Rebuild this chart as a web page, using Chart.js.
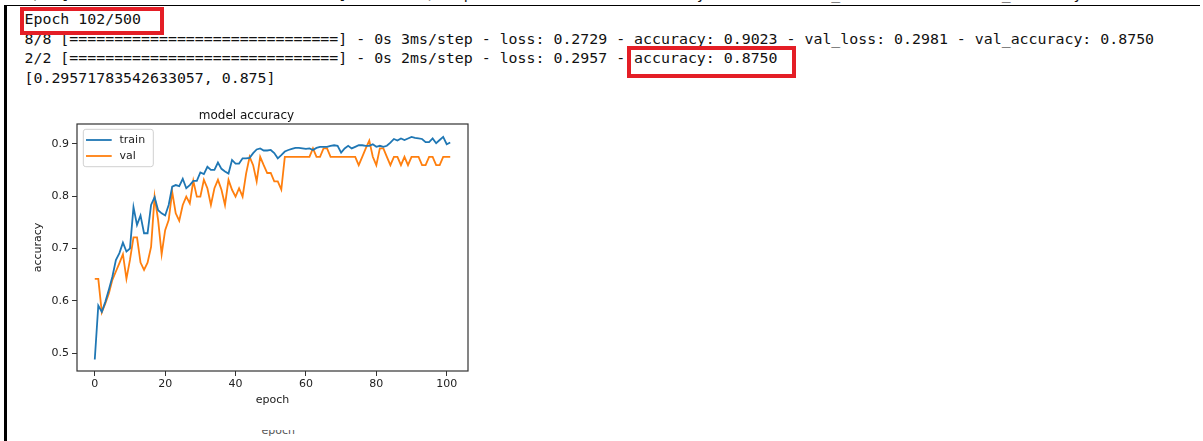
<!DOCTYPE html>
<html>
<head>
<meta charset="utf-8">
<script src="https://cdn.jsdelivr.net/npm/chart.js@4.4.1/dist/chart.umd.min.js"></script>
<style>
  html, body { margin: 0; padding: 0; background: #fff; }
  #page { position: relative; width: 1203px; height: 441px; overflow: hidden; background: #fff; }
  .log {
    position: absolute; left: 24.5px; height: 19.5px; line-height: 19.5px;
    font-family: "DejaVu Sans Mono", monospace; font-size: 14.9px;
    white-space: pre; color: #111;
  }
  .rule { position: absolute; background: #000; }
  .mark { position: absolute; box-sizing: border-box; border: 4.5px solid #e41e26; }
  #plotBox { position: absolute; left: 0; top: 100px; width: 545px; height: 316px; }
  #ghost { position: absolute; left: 256px; top: 430px; width: 50px; height: 8px; overflow: hidden; }
  #ghost span {
    position: absolute; left: 5.5px; top: -5.8px; line-height: 13px;
    font-family: "DejaVu Sans", sans-serif; font-size: 11px; color: #555; white-space: pre;
  }
</style>
</head>
<body>
<div id="page">
  <div class="log" style="top:-15.2px">8/8 [==============================] - 0s 3ms/step - loss: 0.2745 - accuracy: 0.8984 - val_loss: 0.2986 - val_accuracy: 0.8750</div>
  <div class="rule" style="left:4.3px; top:4.6px; width:1196px; height:1.9px"></div>
  <div class="rule" style="left:4.3px; top:4.6px; width:2.4px; height:437px"></div>

  <div class="log" style="top:10.3px">Epoch 102/500</div>
  <div class="log" style="top:29.8px">8/8 [==============================] - 0s 3ms/step - loss: 0.2729 - accuracy: 0.9023 - val_loss: 0.2981 - val_accuracy: 0.8750</div>
  <div class="log" style="top:49.3px">2/2 [==============================] - 0s 2ms/step - loss: 0.2957 - accuracy: 0.8750</div>
  <div class="log" style="top:68.8px">[0.29571783542633057, 0.875]</div>

  <div class="mark" style="left:20px; top:6.5px; width:143.5px; height:28px"></div>
  <div class="mark" style="left:627px; top:45.5px; width:169px; height:32.5px"></div>

  <div id="plotBox"><canvas id="plot" width="545" height="316"></canvas></div>
  <div id="ghost"><span>epoch</span></div>
</div>

<script>
// Training history: accuracy per epoch (epochs 0..101)
const trainAcc = [
  0.488, 0.591, 0.579, 0.598, 0.621, 0.646, 0.678, 0.691, 0.711, 0.694,
  0.700, 0.779, 0.745, 0.763, 0.729, 0.729, 0.783, 0.798, 0.773, 0.767,
  0.763, 0.783, 0.818, 0.821, 0.819, 0.833, 0.815, 0.821, 0.829, 0.829,
  0.845, 0.842, 0.856, 0.850, 0.850, 0.864, 0.852, 0.847, 0.843, 0.869,
  0.862, 0.862, 0.872, 0.872, 0.873, 0.882, 0.889, 0.891, 0.887, 0.887,
  0.888, 0.882, 0.872, 0.878, 0.885, 0.888, 0.890, 0.892, 0.892, 0.891,
  0.890, 0.891, 0.888, 0.892, 0.894, 0.894, 0.894, 0.896, 0.897, 0.896,
  0.883, 0.891, 0.896, 0.891, 0.894, 0.897, 0.897, 0.896, 0.896, 0.899,
  0.894, 0.896, 0.894, 0.896, 0.902, 0.909, 0.906, 0.910, 0.907, 0.910,
  0.913, 0.911, 0.910, 0.909, 0.903, 0.903, 0.910, 0.901, 0.907, 0.913,
  0.899, 0.9023
];

const valAcc = [
  0.642, 0.642, 0.578, 0.595, 0.614, 0.640, 0.656, 0.672, 0.689, 0.642,
  0.678, 0.721, 0.721, 0.673, 0.659, 0.673, 0.703, 0.799, 0.754, 0.689,
  0.735, 0.754, 0.808, 0.767, 0.753, 0.783, 0.799, 0.786, 0.829, 0.799,
  0.799, 0.831, 0.815, 0.783, 0.815, 0.831, 0.812, 0.783, 0.831, 0.812,
  0.799, 0.815, 0.799, 0.843, 0.875, 0.859, 0.828, 0.875, 0.859, 0.844,
  0.844, 0.828, 0.828, 0.8125, 0.875, 0.875, 0.875, 0.875, 0.875, 0.875,
  0.875, 0.875, 0.891, 0.875, 0.875, 0.891, 0.891, 0.875, 0.875, 0.875,
  0.875, 0.875, 0.875, 0.875, 0.875, 0.859, 0.875, 0.891, 0.906, 0.875,
  0.859, 0.891, 0.891, 0.875, 0.859, 0.875, 0.875, 0.859, 0.875, 0.859,
  0.875, 0.875, 0.875, 0.859, 0.859, 0.875, 0.875, 0.859, 0.859, 0.875,
  0.875, 0.875
];

const seriesLabels = ['train', 'val'];
const seriesColors = ['#1f77b4', '#ff7f0e'];

const xTicks = [0, 20, 40, 60, 80, 100];
const yTicks = [0.5, 0.6, 0.7, 0.8, 0.9];
const xRange = [-5.05, 106.05];
const yRange = [0.466, 0.9376];

const sansFont = '"DejaVu Sans", sans-serif';

function points(values) {
  return values.map((v, i) => ({ x: i, y: v }));
}

// Axes frame on all four sides of the plotting area
const axesFrame = {
  id: 'axesFrame',
  afterDraw(chart) {
    const { ctx, chartArea: a } = chart;
    ctx.save();
    ctx.strokeStyle = '#333';
    ctx.lineWidth = 1.2;
    ctx.strokeRect(a.left, a.top, a.right - a.left, a.bottom - a.top);
    ctx.restore();
  }
};

// Legend box drawn in the upper-left corner of the plotting area
const cornerLegend = {
  id: 'cornerLegend',
  afterDraw(chart) {
    const { ctx, chartArea: a } = chart;
    const x0 = a.left + 6.3, y0 = a.top + 5.3, w = 70, h = 37.4, r = 2.5;
    ctx.save();
    ctx.beginPath();
    ctx.moveTo(x0 + r, y0);
    ctx.arcTo(x0 + w, y0, x0 + w, y0 + h, r);
    ctx.arcTo(x0 + w, y0 + h, x0, y0 + h, r);
    ctx.arcTo(x0, y0 + h, x0, y0, r);
    ctx.arcTo(x0, y0, x0 + w, y0, r);
    ctx.closePath();
    ctx.fillStyle = 'rgba(255,255,255,0.85)';
    ctx.fill();
    ctx.strokeStyle = '#d0d0d0';
    ctx.lineWidth = 1;
    ctx.stroke();
    ctx.font = '11px ' + sansFont;
    ctx.textBaseline = 'middle';
    chart.data.datasets.forEach((ds, i) => {
      const cy = y0 + 10.7 + i * 16;
      ctx.strokeStyle = ds.borderColor;
      ctx.lineWidth = ds.borderWidth;
      ctx.beginPath();
      ctx.moveTo(x0 + 2.7, cy);
      ctx.lineTo(x0 + 28.4, cy);
      ctx.stroke();
      ctx.fillStyle = '#222';
      ctx.fillText(ds.label, x0 + 36.2, cy);
    });
    ctx.restore();
  }
};

new Chart(document.getElementById('plot'), {
  type: 'line',
  data: {
    datasets: [
      { label: seriesLabels[0], data: points(trainAcc), borderColor: seriesColors[0], backgroundColor: seriesColors[0],
        borderWidth: 1.8, pointRadius: 0, tension: 0, fill: false },
      { label: seriesLabels[1], data: points(valAcc), borderColor: seriesColors[1], backgroundColor: seriesColors[1],
        borderWidth: 1.8, pointRadius: 0, tension: 0, fill: false }
    ]
  },
  options: {
    responsive: false,
    animation: false,
    devicePixelRatio: 1,
    layout: { padding: { left: 25, right: 77, top: 0, bottom: 0 } },
    plugins: {
      legend: { display: false },
      tooltip: { enabled: false },
      title: {
        display: true, text: 'model accuracy', color: '#111',
        font: { family: sansFont, size: 12, weight: 'normal' },
        padding: { top: 8.7, bottom: 0.9 }
      }
    },
    scales: {
      x: {
        type: 'linear', min: xRange[0], max: xRange[1],
        afterFit(scale) { scale.height = 45; },
        afterBuildTicks(scale) { scale.ticks = xTicks.map(v => ({ value: v })); },
        grid: { drawOnChartArea: false, drawTicks: true, tickLength: 5, color: '#333', tickColor: '#333', lineWidth: 1 },
        border: { display: false },
        ticks: { padding: 2, color: '#222', autoSkip: false, maxRotation: 0,
                 font: { family: sansFont, size: 11 }, callback: v => String(v) },
        title: { display: true, text: 'epoch', color: '#222',
                 font: { family: sansFont, size: 11 }, padding: { top: 0, bottom: 9.7 } }
      },
      y: {
        type: 'linear', min: yRange[0], max: yRange[1],
        afterFit(scale) { scale.width = 52; },
        afterBuildTicks(scale) { scale.ticks = yTicks.map(v => ({ value: v })); },
        grid: { drawOnChartArea: false, drawTicks: true, tickLength: 5, color: '#333', tickColor: '#333', lineWidth: 1 },
        border: { display: false },
        ticks: { padding: 3, color: '#222', autoSkip: false,
                 font: { family: sansFont, size: 11 }, callback: v => v.toFixed(1) },
        title: { display: true, text: 'accuracy', color: '#222',
                 font: { family: sansFont, size: 11 }, padding: { top: 6.5, bottom: 0 } }
      }
    }
  },
  plugins: [axesFrame, cornerLegend]
});
</script>
</body>
</html>
